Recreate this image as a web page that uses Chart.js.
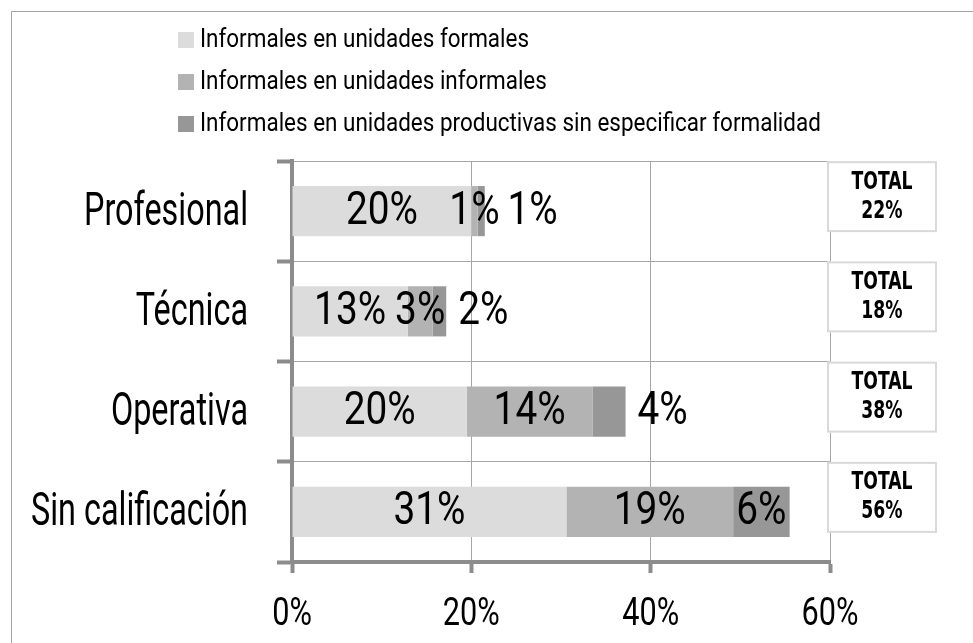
<!DOCTYPE html>
<html>
<head>
<meta charset="utf-8">
<script src="https://cdn.jsdelivr.net/npm/chart.js@4"></script>
<style>
  body { margin: 0; background: #fff; }
  #wrap { width: 973px; height: 643px; position: relative; }
</style>
</head>
<body>
<div id="wrap"><canvas id="grafico" width="973" height="643"></canvas></div>
<script>
// Datos
const categorias = ['Profesional', 'Técnica', 'Operativa', 'Sin calificación'];
const series = [
    'Informales en unidades formales',
    'Informales en unidades informales',
    'Informales en unidades productivas sin especificar formalidad'
];
const enUnidadesFormales = [20.0, 12.9, 19.5, 30.6];
const enUnidadesInformales = [0.7, 2.8, 14.0, 18.6];
const sinEspecificar = [0.8, 1.5, 3.7, 6.3];
const totales = [22, 18, 38, 56];
const ticksX = [0, 20, 40, 60];

const colores = ['#dcdcdc', '#b3b3b3', '#979797'];
const fuente = 'Roboto, "DejaVu Sans Condensed", sans-serif';
const fuenteNegrita = '"DejaVu Sans Condensed", sans-serif';

// La fuente original es muy estrecha: se comprime el texto en horizontal
// hasta que una palabra de referencia mida lo mismo que en la imagen
function estilo(size, bold) {
    return bold ? 'bold ' + size + 'px ' + fuenteNegrita : size + 'px ' + fuente;
}

function escala(ctx, muestra, objetivo, size, bold) {
    ctx.save();
    ctx.font = estilo(size, bold);
    const w = ctx.measureText(muestra).width;
    ctx.restore();
    return objetivo / w;
}

function texto(ctx, str, x, y, size, sx, align, bold) {
    ctx.save();
    ctx.font = estilo(size, bold);
    ctx.textAlign = align;
    ctx.textBaseline = 'middle';
    ctx.fillStyle = '#000';
    ctx.translate(x, y);
    ctx.scale(sx, 1);
    ctx.fillText(str, 0, 0);
    ctx.restore();
}

function ancho(ctx, str, size, sx) {
    ctx.save();
    ctx.font = estilo(size, false);
    const w = ctx.measureText(str).width * sx;
    ctx.restore();
    return w;
}

const extras = {
    id: 'extras',
    beforeDraw(chart) {
        const ctx = chart.ctx;
        ctx.save();
        ctx.strokeStyle = '#a6a6a6';
        ctx.lineWidth = 1;
        ctx.strokeRect(11.5, 11.5, 1200, 900);
        ctx.restore();
    },
    afterDatasetsDraw(chart) {
        const ctx = chart.ctx;
        const sx = escala(ctx, '20%', 72, 46, false);
        for (let i = 0; i < categorias.length; i++) {
            let finEtiqueta = 0;
            chart.data.datasets.forEach((ds, d) => {
                const bar = chart.getDatasetMeta(d).data[i];
                const txt = Math.round(ds.data[i]) + '%';
                const w = ancho(ctx, txt, 46, sx);
                const izq = Math.min(bar.x, bar.base);
                const der = Math.max(bar.x, bar.base);
                let x;
                if (d === chart.data.datasets.length - 1 && der - izq < w * 0.9) {
                    x = Math.max(der + 12, finEtiqueta + 8);
                } else {
                    x = (izq + der) / 2 - w / 2;
                }
                texto(ctx, txt, x, bar.y + 1, 46, sx, 'left', false);
                finEtiqueta = x + w;
            });
        }
    },
    afterDraw(chart) {
        const ctx = chart.ctx;
        const sy = chart.scales.y;
        const sxs = chart.scales.x;
        // etiquetas de categorías
        const sCat = escala(ctx, 'Profesional', 164, 46, false);
        sy.ticks.forEach((t, i) => {
            texto(ctx, categorias[t.value], 248, sy.getPixelForTick(i) + 2, 46, sCat, 'right', false);
        });
        // etiquetas del eje x
        const sEje = escala(ctx, '60%', 57, 38, false);
        sxs.ticks.forEach((t, i) => {
            texto(ctx, t.value + '%', sxs.getPixelForTick(i), 615, 38, sEje, 'center', false);
        });
        // recuadros TOTAL
        ctx.save();
        for (let i = 0; i < categorias.length; i++) {
            const arriba = sy.getPixelForValue(i) - 50;
            ctx.fillStyle = '#fff';
            ctx.fillRect(827, arriba, 110, 71);
            ctx.strokeStyle = '#d9d9d9';
            ctx.lineWidth = 2;
            ctx.strokeRect(828, arriba + 1, 108, 69);
        }
        ctx.restore();
        const sTot = escala(ctx, 'TOTAL', 61, 25, true);
        for (let i = 0; i < categorias.length; i++) {
            const arriba = sy.getPixelForValue(i) - 50;
            texto(ctx, 'TOTAL', 882, arriba + 21, 25, sTot, 'center', true);
            texto(ctx, totales[i] + '%', 882, arriba + 50, 25, sTot, 'center', true);
        }
        // leyenda
        const sLey = escala(ctx, series[0], 329, 25, false);
        chart.data.datasets.forEach((ds, d) => {
            const cy = 40 + d * 42;
            ctx.fillStyle = ds.backgroundColor;
            ctx.fillRect(178, cy - 8, 16, 16);
            texto(ctx, ds.label, 200, cy + 1, 25, sLey, 'left', false);
        });
    }
};

const ctx = document.getElementById('grafico').getContext('2d');
new Chart(ctx, {
    type: 'bar',
    data: {
        labels: categorias,
        datasets: [
            { label: series[0], data: enUnidadesFormales, backgroundColor: colores[0] },
            { label: series[1], data: enUnidadesInformales, backgroundColor: colores[1] },
            { label: series[2], data: sinEspecificar, backgroundColor: colores[2] }
        ]
    },
    options: {
        indexAxis: 'y',
        responsive: false,
        animation: false,
        barPercentage: 0.5,
        categoryPercentage: 1,
        layout: { padding: { top: 161, right: 143, left: 0, bottom: 0 } },
        plugins: { legend: { display: false }, tooltip: { enabled: false } },
        scales: {
            x: {
                stacked: true,
                min: 0,
                max: 60,
                afterBuildTicks: s => { s.ticks = ticksX.map(v => ({ value: v })); },
                afterFit: s => { s.height = 81; },
                ticks: { display: false },
                grid: { color: '#a6a6a6', lineWidth: 1, tickColor: '#8c8c8c', tickWidth: 4, tickLength: 11 },
                border: { color: '#8c8c8c', width: 4 }
            },
            y: {
                stacked: true,
                afterFit: s => { s.width = 292; },
                ticks: { display: false },
                grid: { offset: true, color: '#a6a6a6', lineWidth: 1, tickColor: '#8c8c8c', tickWidth: 4, tickLength: 15 },
                border: { color: '#8c8c8c', width: 4 }
            }
        }
    },
    plugins: [extras]
});
</script>
</body>
</html>
